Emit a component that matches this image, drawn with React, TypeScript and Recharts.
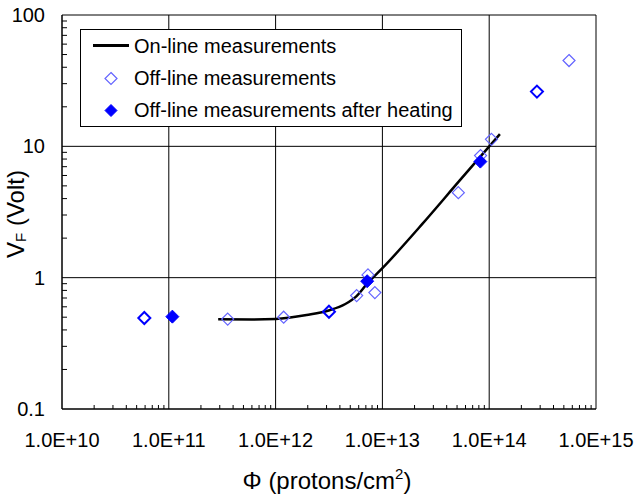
import React from 'react';
import { ComposedChart, Line, Scatter, XAxis, YAxis, CartesianGrid, Legend } from 'recharts';

// fluence decades (x) and forward-voltage decades (y)
const xDecades = [1e10, 1e11, 1e12, 1e13, 1e14, 1e15];
const yDecades = [0.1, 1, 10, 100];

// on-line measurement curve
const onLinePhi = [2.9e11, 6e11, 1e12, 1.95e12, 3.2e12, 4.5e12, 5.7e12, 7.2e12, 1e13, 2.4e13, 5.3e13, 1.26e14];
const onLineVf = [0.482, 0.481, 0.485, 0.52, 0.565, 0.63, 0.72, 0.9, 1.18, 2.6, 5.5, 12.4];

// off-line measurements
const offLinePhi = [3.56e11, 1.19e12, 5.74e12, 7.33e12, 8.5e12, 5.14e13, 8.3e13, 1.05e14, 5.59e14];
const offLineVf = [0.484, 0.5, 0.73, 1.05, 0.77, 4.44, 8.5, 11.3, 45];

// off-line points drawn darker (repeated measurements)
const offLineRepPhi = [5.9e10, 3.16e12, 2.8e14];
const offLineRepVf = [0.493, 0.55, 26.1];

// off-line measurements after heating
const heatedPhi = [1.08e11, 7.2e12, 8.26e13];
const heatedVf = [0.505, 0.94, 7.65];

const toRows = (phi: number[], vf: number[]) => phi.map((p, i) => ({ phi: p, vf: vf[i] }));

const onLine = toRows(onLinePhi, onLineVf);
const offLine = toRows(offLinePhi, offLineVf);
const offLineRep = toRows(offLineRepPhi, offLineRepVf);
const heated = toRows(heatedPhi, heatedVf);

// decade ticks plus the 2..9 minor ticks in between
const withMinor = (decades: number[]) =>
  decades.flatMap((d, i) => (i === decades.length - 1 ? [d] : [1, 2, 3, 4, 5, 6, 7, 8, 9].map((m) => d * m)));
const xTicks = withMinor(xDecades);
const yTicks = withMinor(yDecades);

const isDecade = (v: number) => Math.abs(Math.log10(v) - Math.round(Math.log10(v))) < 1e-9;

const FONT = '"Liberation Sans", Arial, sans-serif';

const diamondPts = (cx: number, cy: number, r: number) =>
  `${cx},${cy - r} ${cx + r},${cy} ${cx},${cy + r} ${cx - r},${cy}`;

const OpenLight = (p: any) => (
  <polygon points={diamondPts(p.cx, p.cy, 6)} fill="none" stroke="#6464ff" strokeWidth={1.2} />
);
const OpenDark = (p: any) => (
  <polygon points={diamondPts(p.cx, p.cy, 6)} fill="none" stroke="#0000ff" strokeWidth={2} />
);
const Filled = (p: any) => (
  <polygon points={diamondPts(p.cx, p.cy, 6.5)} fill="#0000ff" stroke="#0000ff" strokeWidth={1} />
);

const XTick = ({ x, y, payload }: any) => {
  const v = payload.value;
  if (!isDecade(v)) return <line x1={x} y1={y} x2={x} y2={y - 4} stroke="#000" />;
  return (
    <text x={x} y={y + 24} dy="0.71em" textAnchor="middle" fontSize={20} fill="#000" fontFamily={FONT}>
      {v.toExponential(1).toUpperCase()}
    </text>
  );
};

const YTick = ({ x, y, payload }: any) => {
  const v = payload.value;
  if (!isDecade(v)) return <line x1={x} y1={y} x2={x + 5} y2={y} stroke="#000" />;
  return (
    <text x={x - 17} y={y} dy="0.355em" textAnchor="end" fontSize={20} fill="#000" fontFamily={FONT}>
      {String(v)}
    </text>
  );
};

const LegendBox = () => (
  <svg width={382} height={98} style={{ display: 'block', fontFamily: FONT }}>
    <rect x={0.5} y={0.5} width={381} height={97} fill="#fff" stroke="#000" />
    <line x1={13} y1={16.5} x2={49} y2={16.5} stroke="#000" strokeWidth={3} />
    <text x={54} y={23.5} fontSize={20} fill="#000">On-line measurements</text>
    <polygon points={diamondPts(31, 49.5, 6)} fill="none" stroke="#6464ff" strokeWidth={1.2} />
    <text x={54} y={55.5} fontSize={20} fill="#000">Off-line measurements</text>
    <polygon points={diamondPts(31, 81.5, 6)} fill="#0000ff" stroke="#0000ff" />
    <text x={54} y={87.5} fontSize={20} fill="#000">Off-line measurements after heating</text>
  </svg>
);

const YTitle = ({ viewBox }: any) => {
  const x = viewBox.x + 15;
  const y = viewBox.y + viewBox.height / 2 + 2;
  return (
    <text x={x} y={y} transform={`rotate(-90 ${x} ${y})`} textAnchor="middle" dominantBaseline="central"
      fontSize={24} fill="#000" fontFamily={FONT}>
      V<tspan fontSize={15} dy={5}>F</tspan><tspan dy={-5}> (Volt)</tspan>
    </text>
  );
};

const XTitle = ({ viewBox }: any) => {
  const x = viewBox.x + viewBox.width / 2 - 2;
  const y = viewBox.y + 80;
  return (
    <text x={x} y={y} textAnchor="middle" fontSize={24} fill="#000" fontFamily={FONT}>
      Φ (protons/cm<tspan fontSize={15} dy={-10}>2</tspan><tspan dy={10}>)</tspan>
    </text>
  );
};

export default function App() {
  return (
    <div style={{ position: 'absolute', left: 0, top: 0, width: 634, height: 500, background: '#fff' }}>
      <ComposedChart width={634} height={500} margin={{ top: 15, right: 38, left: 0, bottom: 0 }}
        style={{ fontFamily: FONT }}>
        <CartesianGrid stroke="#000" strokeWidth={1} verticalValues={xDecades} horizontalValues={yDecades} />
        <XAxis type="number" dataKey="phi" scale="log" domain={[1e10, 1e15]} allowDataOverflow
          ticks={xTicks} height={91} tickLine={false} tickSize={0} tickMargin={0}
          axisLine={{ stroke: '#000' }} tick={XTick} interval={0}
          label={{ content: XTitle }} />
        <YAxis type="number" dataKey="vf" scale="log" domain={[0.1, 100]} allowDataOverflow
          ticks={yTicks} width={62} tickLine={false} tickSize={0} tickMargin={0}
          axisLine={{ stroke: '#000' }} tick={YTick} interval={0}
          label={{ content: YTitle }} />
        <Legend layout="vertical" align="center" verticalAlign="middle" content={LegendBox}
          wrapperStyle={{ left: 80, top: 29, width: 382, height: 98 }} />
        <Line data={onLine} dataKey="vf" type="monotone" stroke="#000" strokeWidth={2.5} dot={false}
          isAnimationActive={false} name="On-line measurements" />
        <Scatter data={offLine} dataKey="vf" shape={OpenLight} isAnimationActive={false}
          name="Off-line measurements" />
        <Scatter data={offLineRep} dataKey="vf" shape={OpenDark} isAnimationActive={false}
          legendType="none" name="Off-line measurements (repeated)" />
        <Scatter data={heated} dataKey="vf" shape={Filled} isAnimationActive={false}
          name="Off-line measurements after heating" />
      </ComposedChart>
    </div>
  );
}
